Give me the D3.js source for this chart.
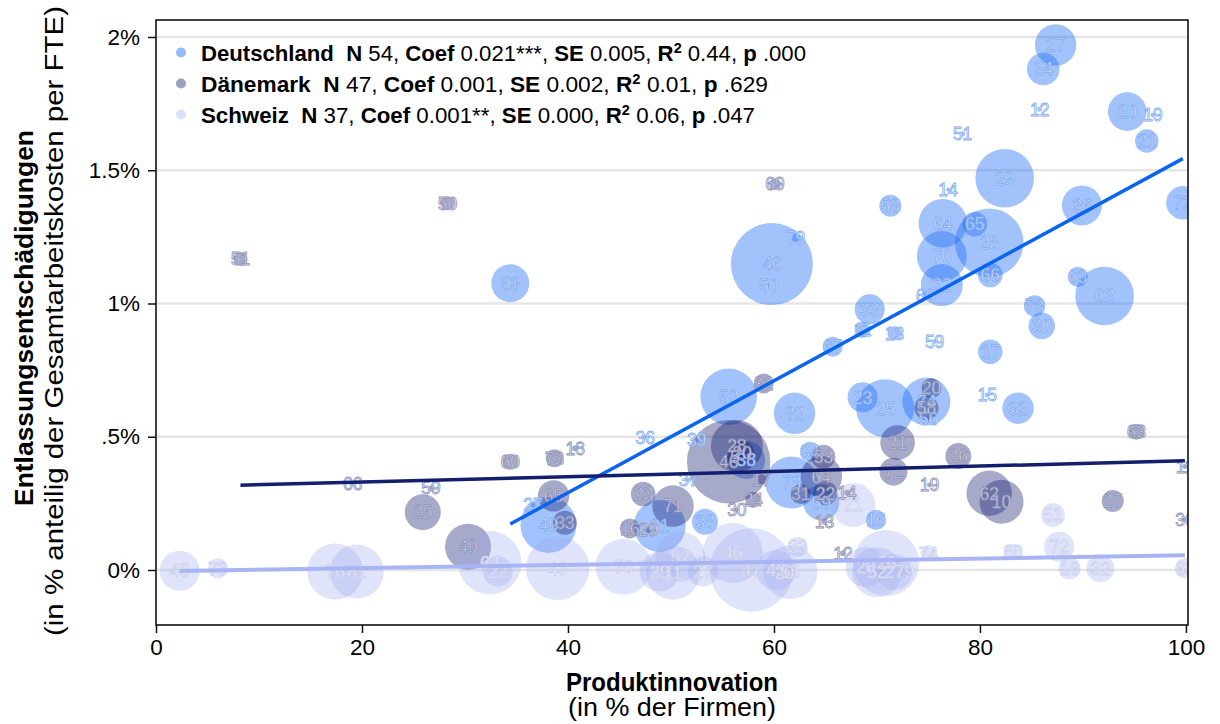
<!DOCTYPE html>
<html>
<head>
<meta charset="utf-8">
<script src="https://cdn.jsdelivr.net/npm/d3@7"></script>
<style>
  body { margin: 0; background: #fff; }
  svg { display: block; }
  text { font-family: "Liberation Sans", Arial, Helvetica, sans-serif; }
</style>
</head>
<body>
<svg id="chart" width="1220" height="724"></svg>
<script>
// ---- Data -------------------------------------------------------------
const countries = ["Deutschland", "Dänemark", "Schweiz"];
const statN    = [54, 47, 37];
const statCoef = ["0.021***", "0.001", "0.001**"];
const statSE   = ["0.005", "0.002", "0.000"];
const statR2   = ["0.44", "0.01", "0.06"];
const statP    = [".000", ".629", ".047"];
// linear fit (share of severance pay on innovation share)
const fitSlope     = [0.021, 0.001, 0.0006];
const fitIntercept = [-0.55, 0.31, -0.005];

// Deutschland: label, product innovation (%), severance pay (%), weight
const deLabel = ["27","24","12","20","19","21","51","29","14","58","26","72","64","65","28","70","66","22","60","33","63","62","73","30","46","50","79","53","17","59","15","32","74","56","67","11","13","52","82","23","25","78","34","69","16","38","39","36","37","81","38","27","49"];
const deX = [87.35,86.15,85.8,94.3,96.8,96.2,78.3,82.4,76.9,71.3,89.9,99.7,76.4,79.5,80.9,76.3,81.0,76.3,74.7,69.3,89.5,92.1,85.3,86.0,59.8,59.5,62.1,34.4,81.0,75.6,80.7,83.7,74.8,75.0,65.7,68.6,71.7,55.6,62.0,68.6,70.8,61.7,63.5,64.6,69.9,57.3,52.5,47.5,51.7,48.9,53.3,36.6,38.1];
const deY = [1.970,1.880,1.729,1.720,1.707,1.610,1.636,1.470,1.428,1.367,1.368,1.378,1.301,1.298,1.228,1.178,1.107,1.069,1.028,0.978,1.100,1.028,0.991,0.916,1.148,1.067,1.247,1.076,0.819,0.857,0.657,0.607,0.632,0.566,0.838,0.901,0.888,0.650,0.588,0.648,0.607,0.328,0.444,0.253,0.188,0.413,0.488,0.498,0.338,0.165,0.181,0.244,0.169];
const deW = [24.3,15.1,0.35,21.1,0.35,7.8,0.4,48.7,0.23,6.9,22.7,15.8,33.5,8.6,66.7,35.4,8.6,25,0.7,12.8,5.7,48.7,6.5,10,95.3,0.23,0.9,20.5,8.6,0.35,0.35,14,32.7,0.5,5.7,3.6,2.8,45.4,24.3,12.8,47.7,38.3,5.7,18.4,5.7,20.5,0.35,0.35,0.35,38.3,9.6,0.35,44.4];

// Dänemark
const dkLabel = ["51","50","69","32","46","28","20","5","17","24","30","31","53","64","22","13","14","21","72","20","58","19","26","62","10","63","27","11","36","60","73","18","65","33","23","71","16","29","66","59","25","49","12"];
const dkX = [8.2,28.3,60.1,59.0,55.6,56.4,56.9,56.2,58.8,58.0,56.4,62.6,64.8,64.6,65.0,64.9,67.1,72.0,71.6,75.3,74.8,75.1,77.9,80.9,82.1,95.2,92.9,99.9,99.9,34.4,38.7,40.7,38.6,39.7,47.3,50.2,46.0,47.8,19.1,26.7,25.9,30.3,66.7];
const dkY = [1.167,1.376,1.448,0.700,0.406,0.465,0.439,0.424,0.340,0.263,0.225,0.285,0.425,0.350,0.288,0.181,0.290,0.478,0.369,0.683,0.608,0.319,0.428,0.288,0.256,0.519,0.259,0.388,0.190,0.406,0.419,0.457,0.278,0.177,0.285,0.240,0.156,0.150,0.325,0.307,0.217,0.087,0.063];
const dkW = [2.8,2.8,2,5.7,98.6,38.3,8.2,3.6,1.4,3.6,0.35,5.7,8.2,24.3,8.2,0.5,0.5,17,11.1,5.7,8.2,0.35,9.6,29.2,27.4,3.6,6.9,0.35,0.35,3.6,4.6,0.5,14,8.2,8.6,24.3,5.7,0.5,0.35,0.5,18.4,30,0.5];

// Schweiz
const chLabel = ["45","73","76","81","64","22","43","70","52","29","11","27","46","47","33","45","55","20","21","26","20","52","27","79","74","60","72","18","32","63","51"];
const chX = [2.3,6.0,17.4,19.5,32.4,33.2,39.0,45.4,50.9,48.9,50.2,53.1,56.0,57.8,62.3,60.2,61.6,61.0,67.7,70.9,68.9,70.0,71.7,72.7,75.0,83.2,87.7,88.7,91.7,99.9,87.1];
const chY = [-0.003,0.006,-0.006,-0.006,0.027,-0.006,0.006,0.012,0.050,-0.006,-0.010,-0.006,0.064,0.000,0.087,0.000,-0.008,-0.010,0.244,0.026,0.011,-0.008,-0.008,-0.008,0.063,0.069,0.087,0.006,0.006,0.006,0.206];
const chW = [22.7,5.7,44.4,41.3,57,12.8,57,44.4,35.4,22.7,41.3,12.8,51,98.6,5.7,22.7,41.3,1.4,27.4,61.7,22.7,35.4,18.4,1.4,3.6,3.6,12.8,6.9,11.1,5.7,8.2];

const xTicks = [0, 20, 40, 60, 80, 100];
const yTicks = [0, 0.5, 1, 1.5, 2];
const yTickLabels = ["0%", ".5%", "1%", "1.5%", "2%"];

// ---- Styles ------------------------------------------------------------
const baseColor   = ["#1e6ef5", "#141e6e", "#a0aaf0"];
const fillOpacity = [0.42, 0.38, 0.32];
const lineColor   = ["#0a64f0", "#141e6e", "#a9b4f5"];
const labelStroke = ["#7fa9f2", "#8b8fb5", "#c9cdec"];
const legendWidth = [605, 567, 554];

// ---- Layout ------------------------------------------------------------
const svg = d3.select("#chart");
const plot = { left: 156, right: 1188, top: 20, bottom: 625 };

const x = d3.scaleLinear().domain([0, 100.2]).range([plot.left, plot.right]);
const y = d3.scaleLinear().domain([-0.2064, 2.0638]).range([plot.bottom, plot.top]);
const r = d3.scaleSqrt().domain([0, 100]).range([0, 42]);

const series = [
  { labels: deLabel, xs: deX, ys: deY, ws: deW },
  { labels: dkLabel, xs: dkX, ys: dkY, ws: dkW },
  { labels: chLabel, xs: chX, ys: chY, ws: chW }
].map((s, i) => ({
  idx: i,
  points: s.labels.map((lab, j) => ({ label: lab, x: s.xs[j], y: s.ys[j], w: s.ws[j] }))
}));

// clip
svg.append("defs").append("clipPath").attr("id", "plotClip")
  .append("rect")
  .attr("x", plot.left).attr("y", plot.top)
  .attr("width", plot.right - plot.left).attr("height", plot.bottom - plot.top);

// gridlines
svg.append("g").selectAll("line").data(yTicks).join("line")
  .attr("x1", plot.left).attr("x2", plot.right)
  .attr("y1", d => y(d)).attr("y2", d => y(d))
  .attr("stroke", "#e6e6e6").attr("stroke-width", 2.5);

const body = svg.append("g").attr("clip-path", "url(#plotClip)");

// bubbles
series.forEach(s => {
  body.append("g").selectAll("circle")
    .data(s.points.slice().sort((a, b) => b.w - a.w))
    .join("circle")
    .attr("cx", d => x(d.x)).attr("cy", d => y(d.y))
    .attr("r", d => Math.max(1.8, r(d.w)))
    .attr("fill", baseColor[s.idx])
    .attr("fill-opacity", fillOpacity[s.idx]);
});

// bubble labels
series.forEach(s => {
  body.append("g").selectAll("text")
    .data(s.points).join("text")
    .attr("x", d => x(d.x)).attr("y", d => y(d.y))
    .attr("dy", "0.36em")
    .attr("text-anchor", "middle")
    .attr("font-size", 17.5)
    .attr("fill", "#ffffff").attr("fill-opacity", 0.85)
    .attr("stroke", labelStroke[s.idx]).attr("stroke-width", 0.8)
    .text(d => d.label);
});

// fitted lines
series.forEach(s => {
  const ext = d3.extent(s.points, d => d.x);
  const f = v => fitIntercept[s.idx] + fitSlope[s.idx] * v;
  body.append("line")
    .attr("x1", x(ext[0])).attr("y1", y(f(ext[0])))
    .attr("x2", x(ext[1])).attr("y2", y(f(ext[1])))
    .attr("stroke", lineColor[s.idx])
    .attr("stroke-width", s.idx === 2 ? 4 : 3.5);
});

// frame
svg.append("rect")
  .attr("x", plot.left).attr("y", plot.top)
  .attr("width", plot.right - plot.left).attr("height", plot.bottom - plot.top)
  .attr("fill", "none").attr("stroke", "#111").attr("stroke-width", 1.6);

// y axis
const yAxis = svg.append("g")
  .attr("transform", `translate(${plot.left},0)`)
  .call(d3.axisLeft(y).tickValues(yTicks).tickSize(8).tickPadding(8)
    .tickFormat((d, i) => yTickLabels[i]));
yAxis.select(".domain").remove();
yAxis.selectAll(".tick line").attr("stroke", "#111").attr("stroke-width", 1.5);
yAxis.selectAll(".tick text").attr("font-size", 22.5).attr("fill", "#000")
  .attr("font-family", '"Liberation Sans", Arial, sans-serif');

// x axis
const xAxis = svg.append("g")
  .attr("transform", `translate(0,${plot.bottom})`)
  .call(d3.axisBottom(x).tickValues(xTicks).tickSize(8).tickPadding(6));
xAxis.select(".domain").remove();
xAxis.selectAll(".tick line").attr("stroke", "#111").attr("stroke-width", 1.5);
xAxis.selectAll(".tick text").attr("font-size", 22.5).attr("fill", "#000")
  .attr("font-family", '"Liberation Sans", Arial, sans-serif');

// axis titles
svg.append("text")
  .attr("x", 672).attr("y", 691).attr("text-anchor", "middle")
  .attr("font-size", 25).attr("font-weight", "bold")
  .attr("textLength", 212).attr("lengthAdjust", "spacingAndGlyphs")
  .text("Produktinnovation");
svg.append("text")
  .attr("x", 672).attr("y", 716).attr("text-anchor", "middle")
  .attr("font-size", 25)
  .attr("textLength", 208).attr("lengthAdjust", "spacingAndGlyphs")
  .text("(in % der Firmen)");

svg.append("text")
  .attr("transform", "translate(33,318) rotate(-90)")
  .attr("text-anchor", "middle")
  .attr("font-size", 25).attr("font-weight", "bold")
  .attr("textLength", 376).attr("lengthAdjust", "spacingAndGlyphs")
  .text("Entlassungsentschädigungen");
svg.append("text")
  .attr("transform", "translate(63,321) rotate(-90)")
  .attr("text-anchor", "middle")
  .attr("font-size", 25)
  .attr("textLength", 630).attr("lengthAdjust", "spacingAndGlyphs")
  .text("(in % anteilig der Gesamtarbeitskosten per FTE)");

// legend
const legend = svg.append("g");
countries.forEach((name, i) => {
  const yy = 60.5 + i * 31;
  legend.append("circle")
    .attr("cx", 181).attr("cy", yy - 8).attr("r", 5)
    .attr("fill", baseColor[i]).attr("fill-opacity", fillOpacity[i] + 0.05);
  const t = legend.append("text")
    .attr("x", 201).attr("y", yy).attr("font-size", 21.5).attr("fill", "#000")
    .attr("textLength", legendWidth[i]).attr("lengthAdjust", "spacingAndGlyphs");
  const parts = [
    { s: name + "\u00a0\u00a0", b: true }, { s: "N", b: true }, { s: ` ${statN[i]}, ` },
    { s: "Coef", b: true }, { s: ` ${statCoef[i]}, ` },
    { s: "SE", b: true }, { s: ` ${statSE[i]}, ` },
    { s: "R", b: true }, { s: "2", b: true, sup: true }, { s: ` ${statR2[i]}, `, after: true },
    { s: "p", b: true }, { s: ` ${statP[i]}` }
  ];
  parts.forEach(p => {
    const ts = t.append("tspan").attr("font-weight", p.b ? "bold" : "normal").text(p.s);
    if (p.sup) ts.attr("font-size", 14).attr("dy", -8);
    if (p.after) ts.attr("dy", 8);
  });
});
</script>
</body>
</html>
